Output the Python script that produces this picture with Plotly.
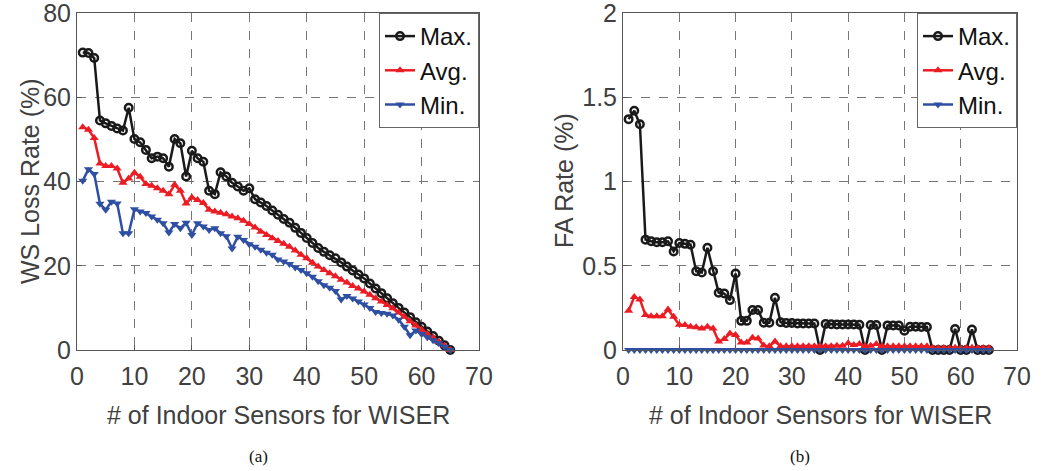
import plotly.graph_objects as go

sensors = list(range(1, 66))

ws_max = [70.6, 70.5, 69.3, 54.5, 53.8, 53.2, 52.6, 52.1, 57.5, 50.1,
          49.3, 47.5, 45.5, 45.9, 45.5, 43.5, 50.1, 49.1, 41.2, 47.3,
          45.5, 44.7, 37.8, 37.0, 42.2, 41.2, 39.7, 38.8, 37.8, 38.4,
          35.8, 35.0, 34.2, 33.1, 32.1, 31.1, 30.2, 29.0, 27.8, 26.6,
          25.4, 24.2, 23.3, 22.5, 21.8, 20.8, 19.8, 18.9, 17.9, 17.0,
          15.8, 14.6, 13.5, 12.3, 11.1, 10.0, 8.9, 7.8, 6.6, 5.5,
          4.4, 3.3, 2.2, 1.1, 0.0]
ws_avg = [52.9, 52.3, 50.3, 44.3, 43.7, 43.7, 43.1, 39.7, 40.7, 42.1,
          41.1, 39.4, 39.0, 38.4, 37.8, 37.0, 39.2, 37.8, 34.8, 36.2,
          35.6, 34.9, 33.3, 32.9, 32.6, 32.2, 31.7, 31.3, 30.7, 29.9,
          29.1, 28.1, 27.3, 26.5, 25.9, 25.2, 24.5, 23.6, 22.6, 21.8,
          20.7, 19.8, 19.0, 18.2, 17.5, 16.7, 16.0, 15.2, 14.6, 13.9,
          13.1, 12.3, 11.5, 10.7, 9.9, 8.9, 7.9, 6.8, 5.8, 4.8,
          3.8, 2.9, 1.9, 1.0, 0.0]
ws_min = [40.2, 42.9, 41.8, 34.7, 33.3, 35.2, 34.8, 27.7, 27.7, 33.4,
          32.9, 32.5, 31.7, 30.9, 30.1, 27.9, 29.9, 28.9, 30.2, 27.3,
          30.1, 29.3, 28.5, 28.9, 27.7, 27.0, 24.1, 26.9, 26.1, 25.1,
          24.5, 23.8, 23.1, 22.6, 21.5, 21.0, 20.4, 19.6, 19.0, 18.2,
          17.4, 16.3, 15.4, 14.8, 14.0, 12.0, 12.8, 12.2, 11.5, 10.8,
          10.0, 9.0, 8.8, 8.6, 8.2, 7.2, 5.5, 3.5, 4.6, 3.8,
          3.0, 2.3, 1.6, 0.8, 0.0]

fa_max = [1.37, 1.42, 1.34, 0.655, 0.645, 0.64, 0.64, 0.645, 0.585, 0.635,
          0.63, 0.625, 0.467, 0.46, 0.607, 0.467, 0.34, 0.335, 0.296, 0.454,
          0.173, 0.173, 0.237, 0.237, 0.162, 0.162, 0.31, 0.165, 0.16, 0.16,
          0.158, 0.157, 0.157, 0.157, 0.0, 0.155, 0.153, 0.152, 0.152, 0.152,
          0.152, 0.150, 0.0, 0.148, 0.148, 0.0, 0.146, 0.145, 0.145, 0.114,
          0.138, 0.138, 0.137, 0.137, 0.0, 0.0, 0.0, 0.0, 0.125, 0.0,
          0.0, 0.122, 0.0, 0.0, 0.0]
fa_avg = [0.233, 0.315, 0.30, 0.207, 0.20, 0.20, 0.20, 0.24, 0.197, 0.150,
          0.148, 0.138, 0.135, 0.128, 0.138, 0.128, 0.05, 0.065, 0.098, 0.089,
          0.045, 0.045, 0.072, 0.068, 0.026, 0.022, 0.05, 0.022, 0.022, 0.022,
          0.022, 0.022, 0.022, 0.022, 0.022, 0.022, 0.022, 0.025, 0.025, 0.04,
          0.03, 0.035, 0.022, 0.025, 0.035, 0.022, 0.022, 0.022, 0.022, 0.022,
          0.022, 0.022, 0.022, 0.022, 0.012, 0.012, 0.012, 0.012, 0.014, 0.012,
          0.012, 0.014, 0.012, 0.012, 0.012]
fa_min = [0.0] * 65

x_ticks = [0, 10, 20, 30, 40, 50, 60, 70]
ws_ticks = [0, 20, 40, 60, 80]
fa_ticks = [0, 0.5, 1, 1.5, 2]
fa_tick_text = ["0", "0.5", "1", "1.5", "2"]

BLACK = "#1a1a1a"
RED = "#ec1c24"
BLUE = "#2f4fa2"
TXT = "#404040"
FONT = "Liberation Sans, Arial, sans-serif"

W, H = 1043, 471
def px_x(p):
    return p / W
def px_y(p):
    return 1 - p / H

fig = go.Figure()

def add_series(x, y, name, color, symbol, xa, ya, legend, open_marker=False):
    marker = dict(symbol=symbol, size=8, color=color)
    if open_marker:
        marker = dict(symbol="circle-open", size=7.5, color=color, line=dict(width=2.5, color=color))
    fig.add_trace(go.Scatter(x=x, y=y, name=name, mode="lines+markers",
                             line=dict(color=color, width=2.5), marker=marker,
                             xaxis=xa, yaxis=ya, legend=legend, cliponaxis=False))

add_series(sensors, ws_max, "Max.", BLACK, "circle-open", "x", "y", "legend", True)
add_series(sensors, ws_avg, "Avg.", RED, "triangle-up", "x", "y", "legend")
add_series(sensors, ws_min, "Min.", BLUE, "triangle-down", "x", "y", "legend")
add_series(sensors, fa_max, "Max.", BLACK, "circle-open", "x2", "y2", "legend2", True)
add_series(sensors, fa_avg, "Avg.", RED, "triangle-up", "x2", "y2", "legend2")
add_series(sensors, fa_min, "Min.", BLUE, "triangle-down", "x2", "y2", "legend2")

axis_common = dict(showline=True, linecolor="#555555", linewidth=1, mirror=True,
                   showgrid=True, gridcolor="#777777", griddash="dash", gridwidth=1,
                   ticks="inside", ticklen=5, tickcolor="#555555", automargin=False,
                   ticklabeloverflow="allow",
                   tickfont=dict(family=FONT, size=25, color=TXT), zeroline=False)

ytop = px_y(13)
ybot = px_y(350)
fig.update_layout(
    width=W, height=H, margin=dict(l=0, r=0, t=0, b=0, autoexpand=False),
    paper_bgcolor="white", plot_bgcolor="white",
    font=dict(family=FONT, color=TXT),
    xaxis=dict(domain=[px_x(77), px_x(479)], range=[0, 70], tickvals=x_ticks, anchor="y",
               ticklabelstandoff=4, **axis_common),
    yaxis=dict(domain=[ybot, ytop], range=[0, 80], tickvals=ws_ticks, anchor="x",
               **axis_common),
    xaxis2=dict(domain=[px_x(623), px_x(1017)], range=[0, 70], tickvals=x_ticks, anchor="y2",
                ticklabelstandoff=4, **axis_common),
    yaxis2=dict(domain=[ybot, ytop], range=[0, 2], tickvals=fa_ticks, ticktext=fa_tick_text, anchor="x2",
                **axis_common),
    legend=dict(x=px_x(479), xanchor="right", y=ytop, yanchor="top",
                bgcolor="white", bordercolor="#666666", borderwidth=1,
                font=dict(family=FONT, size=24, color="#111111"), tracegroupgap=0),
    legend2=dict(x=px_x(1017), xanchor="right", y=ytop, yanchor="top",
                 bgcolor="white", bordercolor="#666666", borderwidth=1,
                 font=dict(family=FONT, size=24, color="#111111"), tracegroupgap=0),
    showlegend=True,
)

title_font = dict(family=FONT, size=25, color=TXT)
fig.add_annotation(text="# of Indoor Sensors for WISER", x=px_x(278), y=px_y(415), xref="paper", yref="paper",
                   xanchor="center", yanchor="middle", showarrow=False, font=title_font)
fig.add_annotation(text="# of Indoor Sensors for WISER", x=px_x(820), y=px_y(415), xref="paper", yref="paper",
                   xanchor="center", yanchor="middle", showarrow=False, font=title_font)
fig.add_annotation(text="WS Loss Rate (%)", x=px_x(30), y=px_y(181), xref="paper", yref="paper",
                   xanchor="center", yanchor="middle", textangle=-90, showarrow=False, font=title_font)
fig.add_annotation(text="FA Rate (%)", x=px_x(564), y=px_y(181), xref="paper", yref="paper",
                   xanchor="center", yanchor="middle", textangle=-90, showarrow=False, font=title_font)

cap_font = dict(family="Liberation Serif, Times New Roman, serif", size=17, color="#111111")
fig.add_annotation(text="(a)", x=px_x(258), y=px_y(456), xref="paper", yref="paper",
                   xanchor="center", yanchor="middle", showarrow=False, font=cap_font)
fig.add_annotation(text="(b)", x=px_x(800), y=px_y(456), xref="paper", yref="paper",
                   xanchor="center", yanchor="middle", showarrow=False, font=cap_font)

fig.write_html("out.html", config={"displayModeBar": False},
               post_script="document.body.style.margin='0';")
